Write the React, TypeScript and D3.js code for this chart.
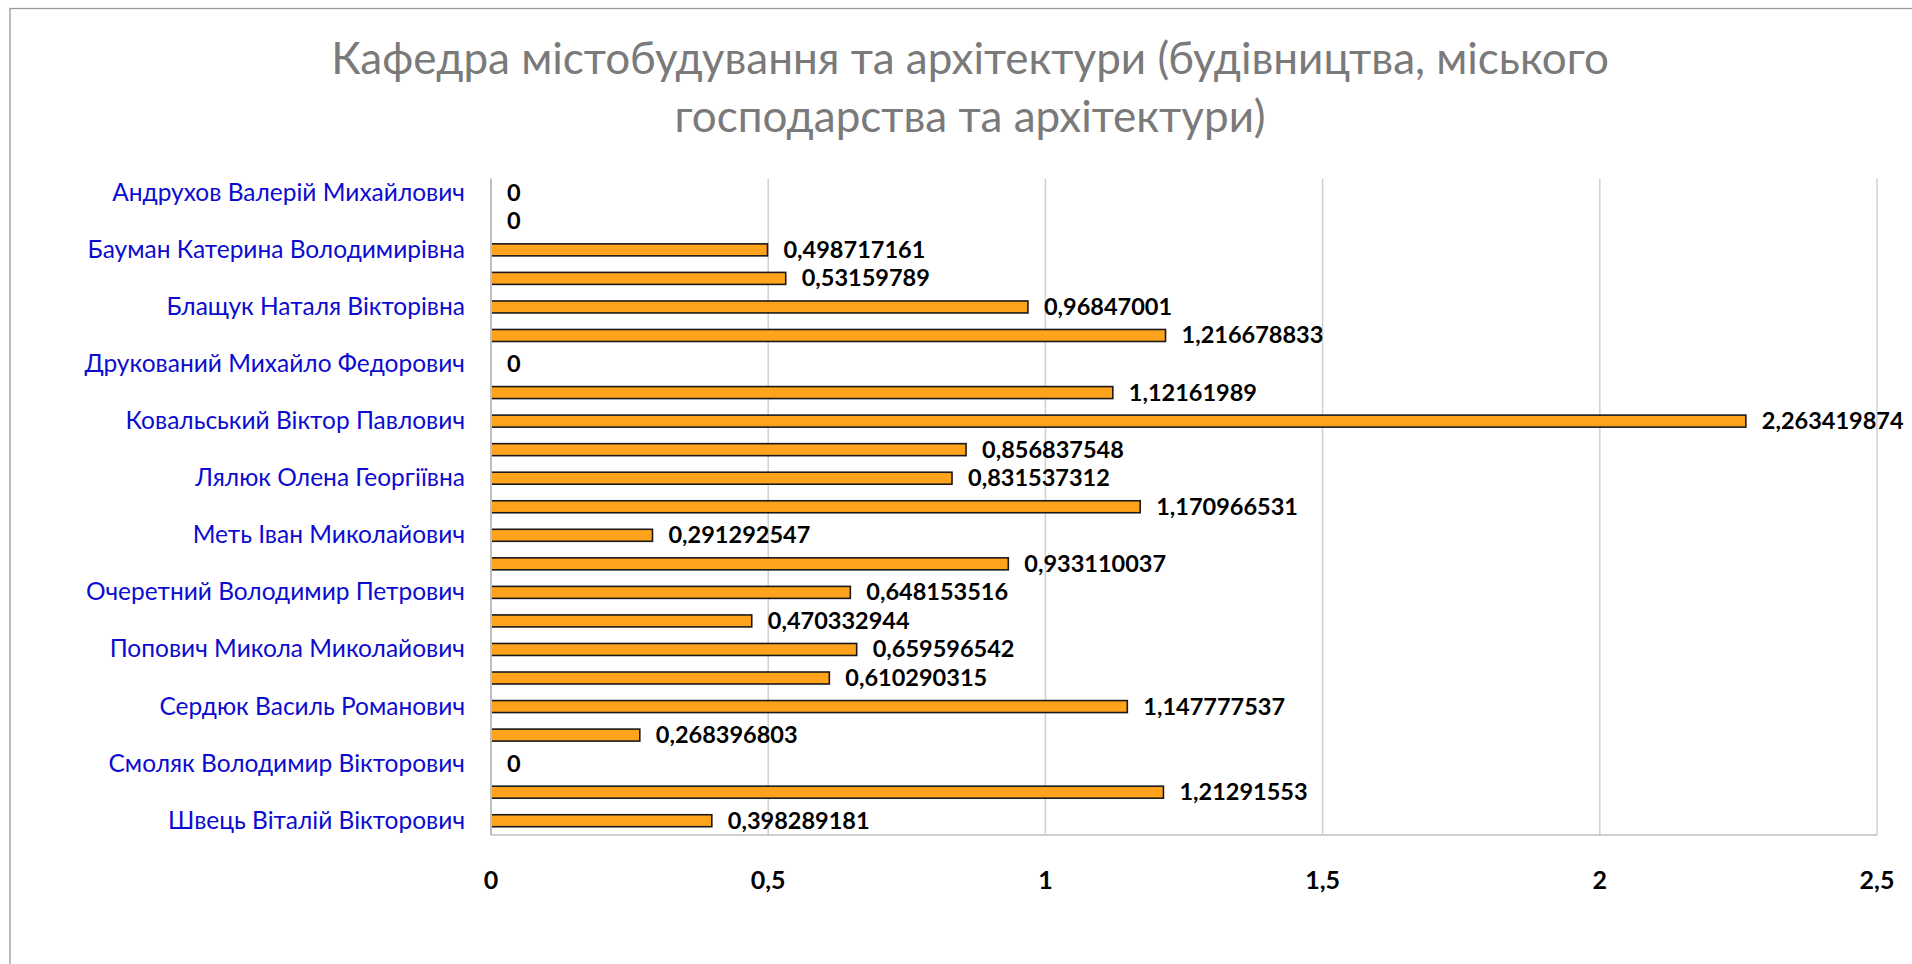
import React from "react";
import * as d3 from "d3";

const titleLines: string[] = [
  "Кафедра містобудування та архітектури (будівництва, міського",
  "господарства та архітектури)",
];

// Category names as shown on the axis (every second label is hidden in the reference)
const categories: string[] = [
  "Андрухов Валерій Михайлович",
  "",
  "Бауман Катерина Володимирівна",
  "",
  "Блащук Наталя Вікторівна",
  "",
  "Друкований Михайло Федорович",
  "",
  "Ковальський Віктор Павлович",
  "",
  "Лялюк Олена Георгіївна",
  "",
  "Меть Іван Миколайович",
  "",
  "Очеретний Володимир Петрович",
  "",
  "Попович Микола Миколайович",
  "",
  "Сердюк Василь Романович",
  "",
  "Смоляк Володимир Вікторович",
  "",
  "Швець Віталій Вікторович",
];

const values: number[] = [
  0, 0, 0.498717161, 0.53159789, 0.96847001, 1.216678833, 0, 1.12161989,
  2.263419874, 0.856837548, 0.831537312, 1.170966531, 0.291292547,
  0.933110037, 0.648153516, 0.470332944, 0.659596542, 0.610290315,
  1.147777537, 0.268396803, 0, 1.21291553, 0.398289181,
];

const xTicks: number[] = [0, 0.5, 1, 1.5, 2, 2.5];

const FONT = "Lato, 'Open Sans', 'Noto Sans', sans-serif";

export default function App() {
  const plotLeft = 491;
  const plotRight = 1877;
  const plotTop = 178.5;
  const plotBottom = 835;

  const x = d3.scaleLinear().domain([0, 2.5]).range([plotLeft, plotRight]);
  const idx = d3.range(categories.length).map(String);
  const y = d3
    .scaleBand<string>()
    .domain(idx)
    .range([plotTop, plotBottom])
    .paddingInner(0.58)
    .paddingOuter(0.29);

  const fmt = (v: number) => String(v).replace(".", ",");

  return (
    <svg
      width={1912}
      height={964}
      style={{ position: "fixed", left: 0, top: 0, background: "#fff" }}
    >
      <rect x={0} y={0} width={1912} height={964} fill="#fff" />
      <rect
        x={10}
        y={8.5}
        width={1960}
        height={1000}
        fill="#fff"
        stroke="#9a9a9a"
        strokeWidth={1.3}
      />
      {/* title */}
      {titleLines.map((t, i) => (
        <text
          key={i}
          x={970}
          y={74 + i * 58}
          textAnchor="middle"
          fontFamily={FONT}
          fontWeight={400}
          fontSize={44}
          fill="#7a7a7a"
        >
          {t}
        </text>
      ))}
      {/* gridlines */}
      {xTicks
        .filter((t) => t > 0)
        .map((t) => (
          <line
            key={t}
            x1={x(t)}
            x2={x(t)}
            y1={plotTop}
            y2={plotBottom}
            stroke="#d0d0d0"
            strokeWidth={1.5}
          />
        ))}
      <line
        x1={plotLeft}
        x2={plotRight}
        y1={plotBottom}
        y2={plotBottom}
        stroke="#bfbfbf"
        strokeWidth={1.5}
      />
      {/* bars */}
      {values.map((v, i) =>
        v > 0 ? (
          <rect
            key={i}
            x={x(0)}
            y={y(String(i))!}
            width={x(v) - x(0)}
            height={y.bandwidth()}
            fill="#FFA31C"
            stroke="#1a1a1a"
            strokeWidth={1.6}
          />
        ) : null
      )}
      <line
        x1={plotLeft}
        x2={plotLeft}
        y1={plotTop}
        y2={plotBottom}
        stroke="#bfbfbf"
        strokeWidth={2}
      />
      {/* data labels */}
      {values.map((v, i) => (
        <text
          key={i}
          x={x(v) + 16}
          y={y(String(i))! + y.bandwidth() / 2 + 8}
          fontFamily={FONT}
          fontWeight={700}
          fontSize={23.5}
          fill="#000"
        >
          {fmt(v)}
        </text>
      ))}
      {/* category labels */}
      {categories.map((c, i) =>
        c ? (
          <text
            key={i}
            x={465}
            y={y(String(i))! + y.bandwidth() / 2 + 8}
            textAnchor="end"
            fontFamily={FONT}
            fontSize={24.5}
            fill="#0c0cd0"
          >
            {c}
          </text>
        ) : null
      )}
      {/* x tick labels */}
      {xTicks.map((t) => (
        <text
          key={t}
          x={x(t)}
          y={889}
          textAnchor="middle"
          fontFamily={FONT}
          fontWeight={700}
          fontSize={25}
          fill="#000"
        >
          {fmt(t)}
        </text>
      ))}
    </svg>
  );
}
